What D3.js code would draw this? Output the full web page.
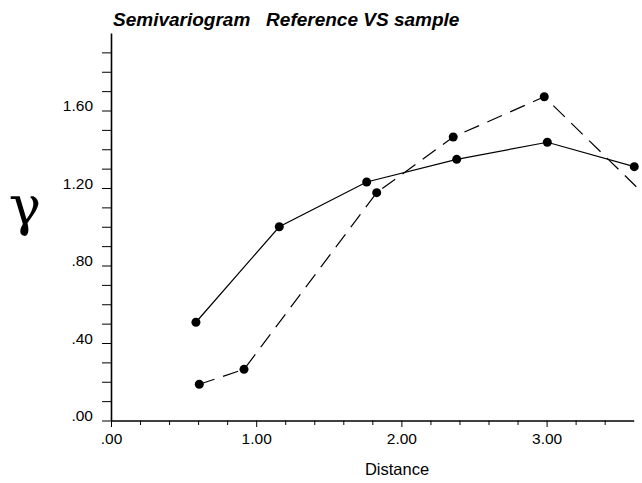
<!DOCTYPE html>
<html>
<head>
<meta charset="utf-8">
<script src="https://cdn.jsdelivr.net/npm/d3@7"></script>
<style>
  body { margin: 0; background: #fff; }
  svg { display: block; }
</style>
</head>
<body>
<script>
'use strict';

const w = 642;
const h = 483;

// reference curve (solid)
const refDist = [0.585, 1.159, 1.761, 2.381, 3.005, 3.604];
const refGamma = [0.507, 1.000, 1.231, 1.348, 1.436, 1.310];
// sample curve (dashed), last point lies beyond the visible axis
const sampleDist = [0.608, 0.916, 1.830, 2.357, 2.984, 4.2];
const sampleGamma = [0.187, 0.264, 1.176, 1.463, 1.671, 0.78];

const xTicks = [0, 1, 2, 3];
const xTickLabels = ['.00', '1.00', '2.00', '3.00'];
const xMinor = [0.2, 0.4, 0.6, 0.8, 1.2, 1.4, 1.6, 1.8, 2.2, 2.4, 2.6, 2.8, 3.2, 3.4];
const yTicks = [0, 0.4, 0.8, 1.2, 1.6];
const yTickLabels = ['.00', '.40', '.80', '1.20', '1.60'];
const yMinor = [0.1, 0.2, 0.3, 0.5, 0.6, 0.7, 0.9, 1.0, 1.1, 1.3, 1.4, 1.5, 1.7, 1.8, 1.9];

const svg = d3.select('body').append('svg').attr('width', w).attr('height', h);
/////////////////////////////////////////

const x = d3.scaleLinear().domain([0, 3.6]).range([111, 633.7]);
const y = d3.scaleLinear().domain([0, 2.0]).range([420.5, 33]);

const font = '"Liberation Sans", Arial, Helvetica, sans-serif';

// minor ticks first, then the major ones with labels
svg.append('g')
  .attr('transform', `translate(0,${y(0)})`)
  .call(d3.axisBottom(x).tickValues(xMinor).tickSize(4.5).tickSizeOuter(0).tickFormat(''))
  .call(g => g.select('.domain').remove());

svg.append('g')
  .attr('transform', `translate(${x(0)},0)`)
  .call(d3.axisLeft(y).tickValues(yMinor).tickSize(9).tickSizeOuter(0).tickFormat(''))
  .call(g => g.select('.domain').remove());

const xAxis = svg.append('g')
  .attr('transform', `translate(0,${y(0)})`)
  .call(d3.axisBottom(x).tickValues(xTicks).tickSize(6.5).tickSizeOuter(0)
    .tickFormat((d, i) => xTickLabels[i]));

xAxis.selectAll('text')
  .attr('y', 23).attr('dy', 0)
  .style('font-size', '15.5px').style('font-family', font).attr('fill', '#000');

const yAxis = svg.append('g')
  .attr('transform', `translate(${x(0)},0)`)
  .call(d3.axisLeft(y).tickValues(yTicks).tickSize(9).tickSizeOuter(0)
    .tickFormat((d, i) => yTickLabels[i]));

yAxis.selectAll('text')
  .attr('x', -18).attr('dy', 0)
  .style('font-size', '15.5px').style('font-family', font).attr('fill', '#000');

svg.selectAll('.tick line').attr('stroke', '#000').attr('stroke-width', 1);
svg.selectAll('.domain').attr('stroke', '#000').attr('stroke-width', 1.6);

// curves
const line = d3.line().x(d => x(d[0])).y(d => y(d[1]));
const refPts = refDist.map((d, i) => [d, refGamma[i]]);
const samplePts = sampleDist.map((d, i) => [d, sampleGamma[i]]);

svg.append('path')
  .datum(refPts)
  .attr('d', line)
  .attr('fill', 'none')
  .attr('stroke', '#000')
  .attr('stroke-width', 1.2);

svg.append('path')
  .datum(samplePts)
  .attr('d', line)
  .attr('fill', 'none')
  .attr('stroke', '#000')
  .attr('stroke-width', 1.2)
  .attr('stroke-dasharray', '16,9');

svg.selectAll('circle.pt')
  .data(refPts.concat(samplePts))
  .enter()
  .append('circle')
  .attr('class', 'pt')
  .attr('cx', d => x(d[0]))
  .attr('cy', d => y(d[1]))
  .attr('r', 4.5)
  .attr('fill', '#000');

// title and axis labels
svg.append('text')
  .text('Semivariogram   Reference VS sample')
  .attr('x', 113)
  .attr('y', 26)
  .attr('xml:space', 'preserve')
  .style('white-space', 'pre')
  .style('font-family', font)
  .style('font-weight', 'bold')
  .style('font-style', 'italic')
  .style('font-size', '19px');

svg.append('text')
  .text('Distance')
  .attr('x', 397)
  .attr('y', 475)
  .attr('text-anchor', 'middle')
  .style('font-family', font)
  .style('font-size', '16.5px');

svg.append('text')
  .text('γ')
  .attr('x', 25)
  .attr('y', 225)
  .attr('text-anchor', 'middle')
  .style('font-family', '"DejaVu Serif", "Liberation Serif", serif')
  .style('font-size', '54px');
</script>
</body>
</html>
